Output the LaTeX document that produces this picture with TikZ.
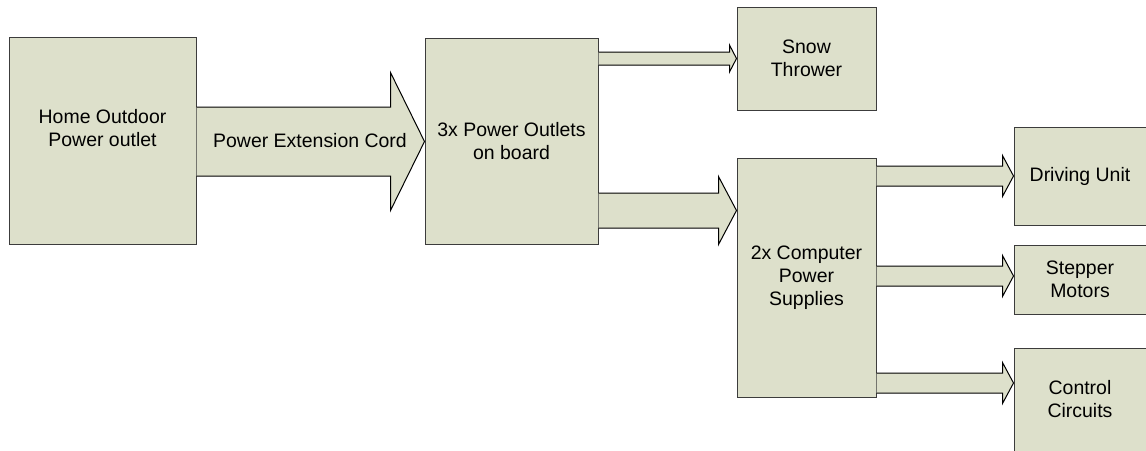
\documentclass[tikz,border=0pt]{standalone}
\usepackage{fontspec}
\setmainfont{Liberation Sans}
\usetikzlibrary{calc}
\definecolor{boxfill}{RGB}{221,224,203}
\definecolor{boxline}{RGB}{60,60,60}
\tikzset{
  blk/.style={draw=boxline, fill=boxfill, line width=0.75pt, inner sep=0pt, align=center},
  barrow/.style={draw=black, fill=boxfill, line width=0.75pt, line join=miter},
  txt/.style={align=center, inner sep=0pt}
}
% source, target, y centre, half shaft, half head, head length
\newcommand\myblockarrow[6]{%
  \filldraw[barrow] (#1.east |- 0,{#3-#4}) -- ($(#2.west |- 0,{#3-#4})+(-#6,0)$)
    -- ($(#2.west |- 0,{#3-#5})+(-#6,0)$) -- (#2.west |- 0,#3)
    -- ($(#2.west |- 0,{#3+#5})+(-#6,0)$) -- ($(#2.west |- 0,{#3+#4})+(-#6,0)$)
    -- (#1.east |- 0,{#3+#4});
}
\begin{document}
\begin{tikzpicture}[x=0.75pt,y=-0.75pt,font=\fontsize{14.6}{17.3}\selectfont]
\useasboundingbox (0,0) rectangle (1146,450);
\node[blk, minimum width=187*0.75pt, minimum height=207*0.75pt,
      label={[txt, yshift=9pt]center:Home Outdoor\\Power outlet}] (home) at (102.5,140.5) {};
\node[blk, minimum width=173*0.75pt, minimum height=206*0.75pt] (outlets) at (511.5,141) {3x Power Outlets\\on board};
\node[blk, minimum width=139*0.75pt, minimum height=103*0.75pt] (snow) at (806.5,58.5) {Snow\\Thrower};
\node[blk, minimum width=139*0.75pt, minimum height=239*0.75pt] (psu) at (806.5,277.5) {2x Computer\\Power\\Supplies};
\node[blk, minimum width=132*0.75pt, minimum height=98*0.75pt] (drive) at (1080,176) {Driving Unit};
\node[blk, minimum width=132*0.75pt, minimum height=69*0.75pt] (stepper) at (1080,279.5) {Stepper\\Motors};
\node[blk, minimum width=132*0.75pt, minimum height=103*0.75pt] (control) at (1080,399.5) {Control\\Circuits};

\myblockarrow{home}{outlets}{141.5}{34.5}{69}{34}
\node[txt] (cord) at (310,141) {Power Extension Cord};
\myblockarrow{outlets}{snow}{58.5}{6.5}{13.5}{7}
\myblockarrow{outlets}{psu}{210.5}{17.5}{34}{18}
\myblockarrow{psu}{drive}{176}{10}{20.5}{11}
\myblockarrow{psu}{stepper}{276}{10}{20.5}{11}
\myblockarrow{psu}{control}{383}{10}{20.5}{11}
\end{tikzpicture}
\end{document}
